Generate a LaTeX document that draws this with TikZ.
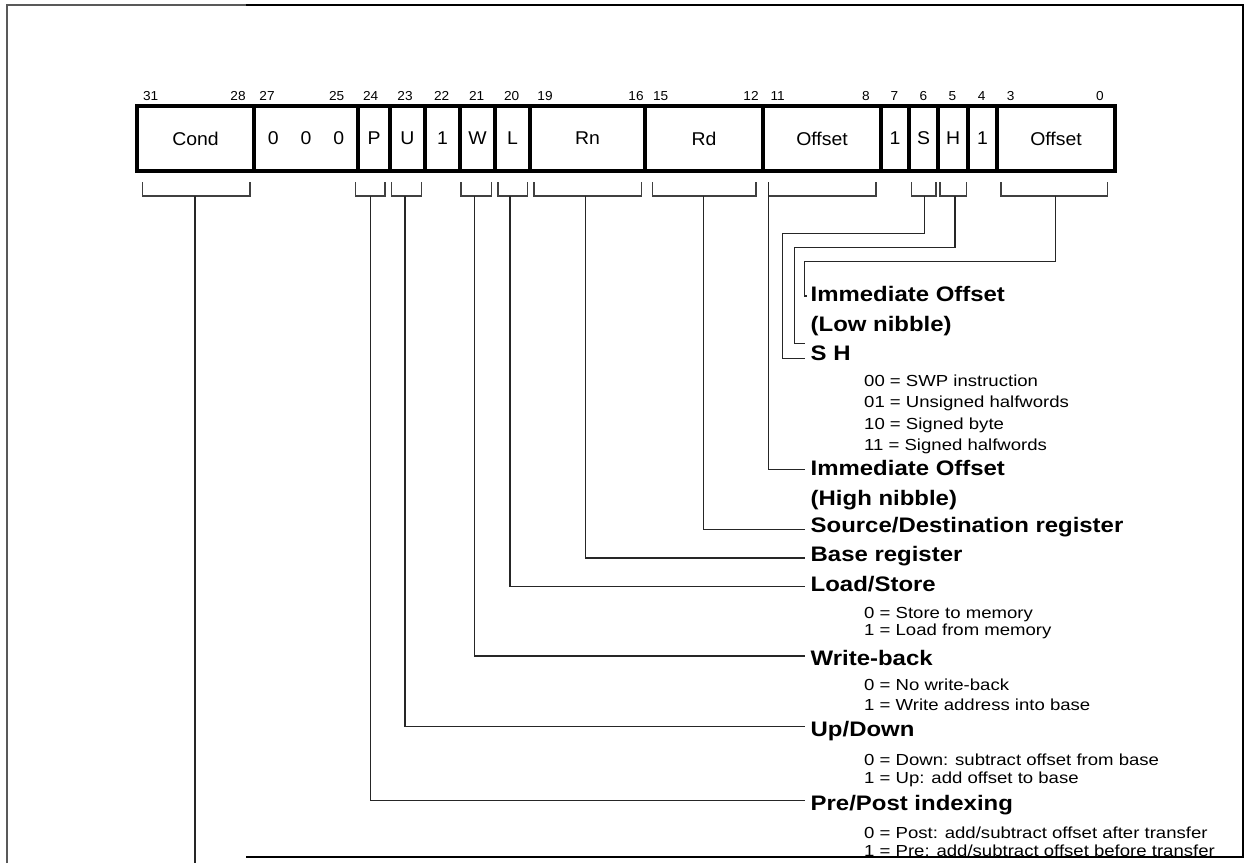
\documentclass[tikz,border=0pt]{standalone}
\usepackage{fontspec}
\setmainfont{Liberation Sans}
\newfontfamily\armfont{Liberation Sans}[FakeStretch=1.05]
\newfontfamily\armwide{Liberation Sans}[FakeStretch=1.14]
\newfontfamily\armnote{Liberation Sans}[FakeStretch=1.16]
\usetikzlibrary{positioning,calc}

\begin{document}
\begin{tikzpicture}[
  x=1pt,
  y=-1pt,
  every node/.style={
    text centered
  },
  field/.style={
    rectangle,
    draw=black,
    line width=4.5pt,
    minimum height=65pt,
    outer sep=0pt,
    inner sep=0pt,
    font=\armfont\fontsize{18.5}{21}\selectfont
  },
  bitnum/.style={
    anchor=base,
    inner sep=0pt,
    font=\armfont\fontsize{13}{15}\selectfont
  },
  lbl/.style={
    anchor=base west,
    inner sep=0pt,
    font=\armwide\bfseries\fontsize{21}{24}\selectfont
  },
  note/.style={
    anchor=base west,
    inner sep=0pt,
    font=\armnote\fontsize{16}{18}\selectfont
  },
  bracket/.style={
    draw=black!75,
    line width=1.4pt
  },
  link/.style={
    draw=black!85,
    line width=1.4pt
  },
  frame/.style={
    line width=2pt
  }
]
  \useasboundingbox (0,0) rectangle (1246,863);

  % outer frame
  \draw[frame, black!65] (6.5,863) -- (6.5,5) -- (246,5);
  \draw[frame, black] (246,5) -- (1242.5,5) -- (1242.5,857) -- (246,857);

  % instruction fields
  \node (Cond) [field, minimum width=117pt] at (195.5,138.5) {Cond};
  \node (Zeros) [field, minimum width=104pt, right=0pt of Cond] {0\hspace{22pt}0\hspace{22pt}0};
  \node (PBit) [field, minimum width=32pt, right=0pt of Zeros] {P};
  \node (UBit) [field, minimum width=35pt, right=0pt of PBit] {U};
  \node (OneA) [field, minimum width=35pt, right=0pt of UBit] {1};
  \node (WBit) [field, minimum width=35pt, right=0pt of OneA] {W};
  \node (LBit) [field, minimum width=35pt, right=0pt of WBit] {L};
  \node (Rn) [field, minimum width=115pt, right=0pt of LBit] {Rn};
  \node (Rd) [field, minimum width=118pt, right=0pt of Rn] {Rd};
  \node (OffHigh) [field, minimum width=118pt, right=0pt of Rd] {Offset};
  \node (OneB) [field, minimum width=28pt, right=0pt of OffHigh] {1};
  \node (SBit) [field, minimum width=29pt, right=0pt of OneB] {S};
  \node (HBit) [field, minimum width=30pt, right=0pt of SBit] {H};
  \node (OneC) [field, minimum width=29pt, right=0pt of HBit] {1};
  \node (OffLow) [field, minimum width=118pt, right=0pt of OneC] {Offset};

  % bit numbers
  \node (Bit31) [bitnum] at (150.7,100.7) {31};
  \node (Bit28) [bitnum] at (238,100.7) {28};
  \node (Bit27) [bitnum] at (267,100.7) {27};
  \node (Bit25) [bitnum] at (336.7,100.7) {25};
  \node (Bit24) [bitnum] at (370.7,100.7) {24};
  \node (Bit23) [bitnum] at (405,100.7) {23};
  \node (Bit22) [bitnum] at (441.7,100.7) {22};
  \node (Bit21) [bitnum] at (476.7,100.7) {21};
  \node (Bit20) [bitnum] at (511.7,100.7) {20};
  \node (Bit19) [bitnum] at (545,100.7) {19};
  \node (Bit16) [bitnum] at (636,100.7) {16};
  \node (Bit15) [bitnum] at (660.7,100.7) {15};
  \node (Bit12) [bitnum] at (751,100.7) {12};
  \node (Bit11) [bitnum] at (777.7,100.7) {11};
  \node (Bit8) [bitnum] at (866,100.7) {8};
  \node (Bit7) [bitnum] at (894.3,100.7) {7};
  \node (Bit6) [bitnum] at (923.3,100.7) {6};
  \node (Bit5) [bitnum] at (952.3,100.7) {5};
  \node (Bit4) [bitnum] at (981.7,100.7) {4};
  \node (Bit3) [bitnum] at (1010.7,100.7) {3};
  \node (Bit0) [bitnum] at (1100,100.7) {0};

  % brackets under the fields
  \draw[bracket] (142.7,182) |- (250,196) -- (250,182);
  \draw[bracket] (355.7,182) |- (385,196) -- (385,182);
  \draw[bracket] (391.7,182) |- (421.7,196) -- (421.7,182);
  \draw[bracket] (461,182) |- (491.7,196) -- (491.7,182);
  \draw[bracket] (498,182) |- (527.7,196) -- (527.7,182);
  \draw[bracket] (534,182) |- (641.7,196) -- (641.7,182);
  \draw[bracket] (652.7,182) |- (756,196) -- (756,182);
  \draw[bracket] (768.3,196) -| (876,182);
  \draw[bracket] (911.7,182) |- (936,196) -- (936,182);
  \draw[bracket] (940,182) |- (966.7,196) -- (966.7,182);
  \draw[bracket] (1001,182) |- (1107.3,196) -- (1107.3,182);

  \coordinate (CondTap) at (195,196);
  \coordinate (PTap) at (370.7,196);
  \coordinate (UTap) at (405,196);
  \coordinate (WTap) at (474.3,196);
  \coordinate (LTap) at (510,196);
  \coordinate (RnTap) at (585.7,196);
  \coordinate (RdTap) at (703.3,196);
  \coordinate (OffHighTap) at (768.3,182);
  \coordinate (STap) at (924.3,196);
  \coordinate (HTap) at (955,196);
  \coordinate (OffLowTap) at (1055.7,196);

  % labels
  \node (LowNibbleA) [lbl] at (810.5,301.7) {Immediate Offset};
  \node (LowNibbleB) [lbl] at (810.5,331.7) {(Low nibble)};
  \node (SHLabel) [lbl] at (810.5,360.7) {S H};
  \node (SHNoteA) [note] at (864,386.7) {00 = SWP instruction};
  \node (SHNoteB) [note] at (864,407.7) {01 = Unsigned halfwords};
  \node (SHNoteC) [note] at (864,429) {10 = Signed byte};
  \node (SHNoteD) [note] at (864,450) {11 = Signed halfwords};
  \node (HighNibbleA) [lbl] at (810.5,475) {Immediate Offset};
  \node (HighNibbleB) [lbl] at (810.5,505) {(High nibble)};
  \node (SrcDst) [lbl] at (810.5,532.7) {Source/Destination register};
  \node (BaseReg) [lbl] at (810.5,561.7) {Base register};
  \node (LoadStore) [lbl] at (810.5,591.7) {Load/Store};
  \node (LoadStoreA) [note] at (864,618.3) {0 = Store to memory};
  \node (LoadStoreB) [note] at (864,635.7) {1 = Load from memory};
  \node (WriteBack) [lbl] at (810.5,665) {Write-back};
  \node (WriteBackA) [note] at (864,690.7) {0 = No write-back};
  \node (WriteBackB) [note] at (864,710) {1 = Write address into base};
  \node (UpDown) [lbl] at (810.5,736.7) {Up/Down};
  \node (UpDownA) [note] at (864,765) {0 = Down: subtract offset from base};
  \node (UpDownB) [note] at (864,783.3) {1 = Up: add offset to base};
  \node (PrePost) [lbl] at (810.5,810) {Pre/Post indexing};
  \node (PrePostA) [note] at (864,838.3) {0 = Post: add/subtract offset after transfer};
  \node (PrePostB) [note] at (864,856.7) {1 = Pre: add/subtract offset before transfer};

  \coordinate (CondEnd) at (195,863);
  \coordinate (OffLowIn) at (807,296);
  \coordinate (SHInH) at (805,343.3);
  \coordinate (SHInS) at (805,358.3);
  \coordinate (OffHighIn) at (805,469.3);
  \coordinate (SrcDstIn) at (805,529.3);
  \coordinate (BaseRegIn) at (805,558);
  \coordinate (LoadStoreIn) at (805,586.3);
  \coordinate (WriteBackIn) at (805,656);
  \coordinate (UpDownIn) at (805,726.7);
  \coordinate (PrePostIn) at (805,800.7);

  % connectors
  \draw[link] (CondTap) -- (CondEnd);
  \draw[link] (PTap) |- (PrePostIn);
  \draw[link] (UTap) |- (UpDownIn);
  \draw[link] (WTap) |- (WriteBackIn);
  \draw[link] (LTap) |- (LoadStoreIn);
  \draw[link] (RnTap) |- (BaseRegIn);
  \draw[link] (RdTap) |- (SrcDstIn);
  \draw[link] (OffHighTap) |- (OffHighIn);
  \draw[link] (STap) |- (782.3,233.3) |- (SHInS);
  \draw[link] (HTap) |- (794.3,247.3) |- (SHInH);
  \draw[link] (OffLowTap) |- (804.3,261.7) |- (OffLowIn);
\end{tikzpicture}
\end{document}
